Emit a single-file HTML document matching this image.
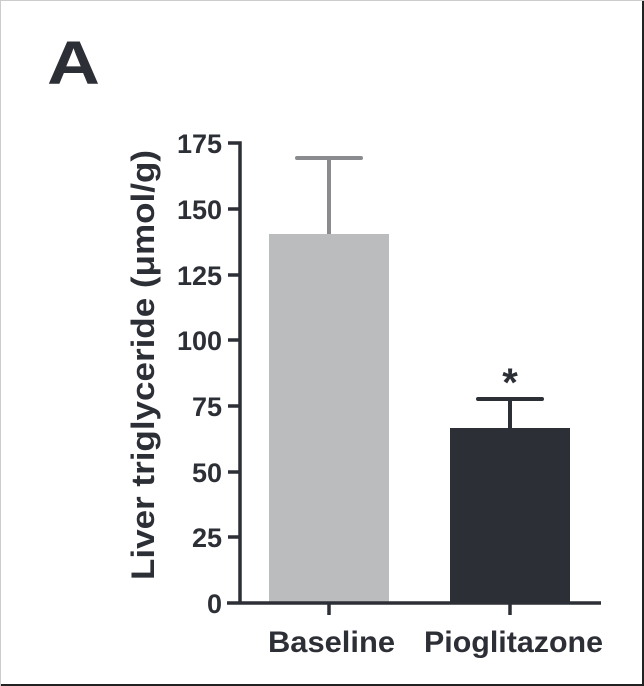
<!DOCTYPE html>
<html><head><style>
body{margin:0;background:#fff}
svg{display:block}
text{font-family:"Liberation Sans",Arial,sans-serif;font-weight:bold;fill:#2d2f36}
</style></head><body>
<svg width="644" height="686" viewBox="0 0 644 686">
<rect x="0" y="0" width="644" height="686" fill="#fff"/>
<line x1="0" y1="685" x2="644" y2="685" stroke="#222" stroke-width="2"/>
<line x1="643" y1="0" x2="643" y2="686" stroke="#222" stroke-width="2"/>
<line x1="0" y1="0.5" x2="644" y2="0.5" stroke="#ccc" stroke-width="1"/>
<line x1="0.5" y1="0" x2="0.5" y2="686" stroke="#ccc" stroke-width="1"/>
<text x="47" y="84" font-size="61" textLength="53" lengthAdjust="spacingAndGlyphs">A</text>
<rect x="269" y="234" width="120" height="369" fill="#bbbcbe"/>
<rect x="450" y="428" width="120" height="175" fill="#2d2f36"/>
<line x1="329" y1="234" x2="329" y2="158" stroke="#8a8b8e" stroke-width="4"/>
<line x1="297" y1="158" x2="361" y2="158" stroke="#8a8b8e" stroke-width="4" stroke-linecap="round"/>
<line x1="510" y1="428" x2="510" y2="399" stroke="#2d2f36" stroke-width="4"/>
<line x1="478" y1="399" x2="542" y2="399" stroke="#2d2f36" stroke-width="4" stroke-linecap="round"/>
<text x="510" y="396" font-size="40" text-anchor="middle">*</text>
<g stroke="#2d2f36" stroke-width="3.5" fill="none">
<polyline points="228,143 240,143 240,603"/>
<line x1="227" y1="603" x2="601" y2="603"/>
<line x1="228" y1="209" x2="240" y2="209"/>
<line x1="228" y1="275" x2="240" y2="275"/>
<line x1="228" y1="340" x2="240" y2="340"/>
<line x1="228" y1="406" x2="240" y2="406"/>
<line x1="228" y1="472" x2="240" y2="472"/>
<line x1="228" y1="537" x2="240" y2="537"/>
<line x1="329" y1="603" x2="329" y2="615"/>
<line x1="510" y1="603" x2="510" y2="615"/>
</g>
<g font-size="27" text-anchor="end">
<text x="222" y="153">175</text>
<text x="222" y="219">150</text>
<text x="222" y="285">125</text>
<text x="222" y="350">100</text>
<text x="222" y="416">75</text>
<text x="222" y="482">50</text>
<text x="222" y="547">25</text>
<text x="222" y="613">0</text>
</g>
<text x="268" y="652" font-size="30" textLength="127" lengthAdjust="spacingAndGlyphs">Baseline</text>
<text x="424" y="652" font-size="30" textLength="179" lengthAdjust="spacingAndGlyphs">Pioglitazone</text>
<text transform="translate(154,580) rotate(-90)" font-size="32" textLength="430" lengthAdjust="spacingAndGlyphs">Liver triglyceride (μmol/g)</text>
</svg>
</body></html>
